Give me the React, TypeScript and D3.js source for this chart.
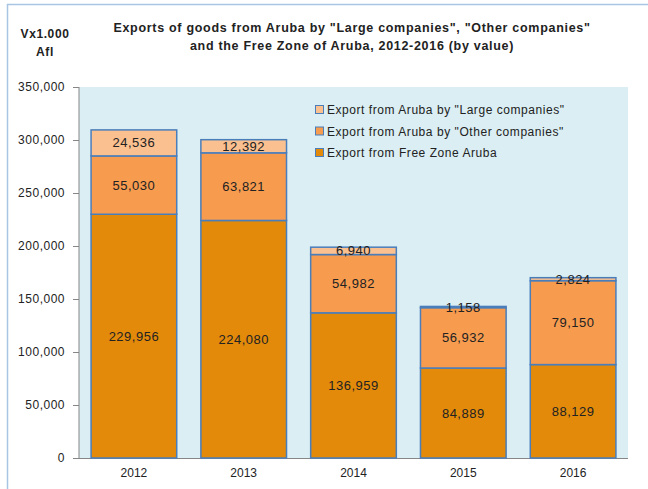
import { useRef, useEffect } from 'react'
import { select, scaleBand, scaleLinear, stack, format } from 'd3'

const years = ['2012', '2013', '2014', '2015', '2016']
const freeZone = [229956, 224080, 136959, 84889, 88129]
const otherCompanies = [55030, 63821, 54982, 56932, 79150]
const largeCompanies = [24536, 12392, 6940, 1158, 2824]
const yTicks = [0, 50000, 100000, 150000, 200000, 250000, 300000, 350000]

const seriesNames = [
  'Export from Free Zone Aruba',
  'Export from Aruba by "Other companies"',
  'Export from Aruba by "Large companies"',
]
const colors = ['#E38A0B', '#F79B4F', '#FAC090']

const W = 648
const H = 489
const margin = { top: 87, right: 20, bottom: 31, left: 79 }
const fontFam = '"Liberation Sans", Arial, sans-serif'

const App = () => {
  const svgRef = useRef<SVGSVGElement>(null)

  useEffect(() => {
    const svg = select(svgRef.current)
    svg.selectAll('*').remove()

    const rows = years.map((y, i) => ({
      year: y,
      free: freeZone[i],
      other: otherCompanies[i],
      large: largeCompanies[i],
    }))
    const keys = ['free', 'other', 'large']
    const stacked = stack<any>().keys(keys)(rows)

    const x = scaleBand().domain(years).range([margin.left, 628]).paddingInner(0.22).paddingOuter(0.11)
    const y = scaleLinear().domain([0, 350000]).range([458, margin.top])
    const fmt = format(',')

    // outer frame
    svg.append('path')
      .attr('d', `M7.5,${H} L7.5,4.5 L${W},4.5`)
      .attr('fill', 'none')
      .attr('stroke', '#A9C5E3')
      .attr('stroke-width', 1.5)

    // plot area
    svg.append('rect')
      .attr('x', margin.left)
      .attr('y', y(350000))
      .attr('width', 628 - margin.left)
      .attr('height', y(0) - y(350000))
      .attr('fill', '#DAEEF3')

    // title
    const title = svg.append('text')
      .attr('text-anchor', 'middle')
      .attr('font-family', fontFam)
      .attr('font-weight', 'bold')
      .attr('font-size', 12.5)
      .attr('letter-spacing', 0.7)
      .attr('fill', '#222')
    title.append('tspan').attr('x', 352).attr('y', 32).text('Exports of goods from Aruba by "Large companies", "Other companies"')
    title.append('tspan').attr('x', 352).attr('y', 50).text('and the Free Zone of Aruba, 2012-2016 (by value)')

    const unit = svg.append('text')
      .attr('text-anchor', 'middle')
      .attr('font-family', fontFam)
      .attr('font-weight', 'bold')
      .attr('font-size', 12)
      .attr('letter-spacing', 0.6)
      .attr('fill', '#222')
    unit.append('tspan').attr('x', 45).attr('y', 38).text('Vx1.000')
    unit.append('tspan').attr('x', 45).attr('y', 56).text('Afl')

    // y axis
    const yAxis = svg.append('g')
    yAxis.append('line')
      .attr('x1', margin.left).attr('x2', margin.left)
      .attr('y1', y(350000)).attr('y2', y(0))
      .attr('stroke', '#868686')
    yAxis.selectAll('.tick')
      .data(yTicks)
      .join('line')
      .attr('x1', 73).attr('x2', margin.left)
      .attr('y1', d => y(d) + 0.5).attr('y2', d => y(d) + 0.5)
      .attr('stroke', '#868686')
    yAxis.selectAll('.lbl')
      .data(yTicks)
      .join('text')
      .attr('x', 65)
      .attr('y', d => y(d))
      .attr('dy', '0.35em')
      .attr('text-anchor', 'end')
      .attr('font-family', fontFam)
      .attr('font-size', 12)
      .attr('letter-spacing', 0.5)
      .attr('fill', '#222')
      .text(d => fmt(d))

    // x axis
    svg.append('line')
      .attr('x1', margin.left).attr('x2', 628)
      .attr('y1', y(0) + 0.5).attr('y2', y(0) + 0.5)
      .attr('stroke', '#868686')
    svg.selectAll('.xl')
      .data(years)
      .join('text')
      .attr('x', d => x(d)! + x.bandwidth() / 2)
      .attr('y', 477)
      .attr('text-anchor', 'middle')
      .attr('font-family', fontFam)
      .attr('font-size', 12)
      .attr('fill', '#222')
      .text(d => d)

    // bars
    stacked.forEach((layer, li) => {
      svg.append('g')
        .selectAll('rect')
        .data(layer)
        .join('rect')
        .attr('x', d => x(d.data.year)!)
        .attr('y', d => y(d[1]))
        .attr('width', x.bandwidth())
        .attr('height', d => y(d[0]) - y(d[1]))
        .attr('fill', colors[li])
        .attr('stroke', '#4A7EBB')
        .attr('stroke-width', 1.5)
    })

    // labels
    stacked.forEach(layer => {
      svg.append('g')
        .selectAll('text')
        .data(layer)
        .join('text')
        .attr('x', d => x(d.data.year)! + x.bandwidth() / 2)
        .attr('y', d => (y(d[0]) + y(d[1])) / 2)
        .attr('dy', '0.35em')
        .attr('text-anchor', 'middle')
        .attr('font-family', fontFam)
        .attr('font-size', 13)
        .attr('letter-spacing', 0.5)
        .attr('fill', '#222')
        .text(d => fmt(d[1] - d[0]))
    })

    // legend
    const legendOrder = [2, 1, 0]
    const lg = svg.append('g')
    legendOrder.forEach((si, i) => {
      const ly = 110 + i * 21.5
      lg.append('rect')
        .attr('x', 315.5).attr('y', ly - 4.5)
        .attr('width', 8).attr('height', 8)
        .attr('fill', colors[si])
        .attr('stroke', '#4A7EBB')
        .attr('stroke-width', 1)
      lg.append('text')
        .attr('x', 327)
        .attr('y', ly)
        .attr('dy', '0.35em')
        .attr('font-family', fontFam)
        .attr('font-size', 12)
        .attr('letter-spacing', 0.55)
        .attr('fill', '#222')
        .text(seriesNames[si])
    })
  }, [])

  return (
    <div style={{ position: 'absolute', left: 0, top: 0 }}>
      <svg ref={svgRef} width={W} height={H} style={{ display: 'block', background: '#fff' }} />
    </div>
  )
}

export default App
